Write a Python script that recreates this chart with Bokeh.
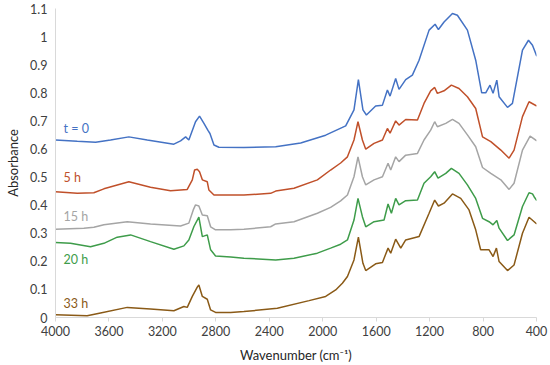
from bokeh.plotting import figure
from bokeh.models import Range1d, FixedTicker, ColumnDataSource
from bokeh.core.properties import value
from bokeh.embed import file_html
from bokeh.resources import INLINE

# ---- data ----
wn_t0 = [4000, 3837, 3700, 3588, 3451, 3313, 3114, 3064, 3026, 3002, 2952, 2922, 2889, 2859, 2844, 2814, 2777,
         2590, 2352, 2165, 1978, 1828, 1766, 1733, 1699, 1673, 1604, 1553, 1516, 1496, 1454, 1429, 1379, 1329,
         1279, 1204, 1159, 1134, 1092, 1029, 992, 917, 855, 810, 780, 748, 725, 697, 680, 617, 580, 505, 460, 430, 398]
abs_t0 = [0.632, 0.627, 0.624, 0.632, 0.643, 0.632, 0.617, 0.629, 0.643, 0.632, 0.697, 0.717, 0.691, 0.666, 0.655,
          0.614, 0.606, 0.605, 0.608, 0.621, 0.649, 0.682, 0.739, 0.847, 0.739, 0.721, 0.753, 0.756, 0.810, 0.788,
          0.851, 0.812, 0.847, 0.863, 0.916, 1.023, 1.044, 1.025, 1.052, 1.082, 1.076, 1.023, 0.916, 0.800, 0.800,
          0.827, 0.798, 0.845, 0.786, 0.748, 0.762, 0.952, 0.987, 0.969, 0.930]

wn_5h = [4000, 3837, 3713, 3638, 3451, 3289, 3139, 3014, 2976, 2959, 2939, 2922, 2901, 2864, 2852, 2814, 2689,
         2590, 2390, 2352, 2215, 2040, 1941, 1866, 1815, 1766, 1736, 1703, 1678, 1616, 1553, 1516, 1496, 1454,
         1429, 1379, 1291, 1242, 1192, 1162, 1142, 1092, 1037, 980, 917, 855, 804, 742, 667, 605, 568, 505, 456, 398]
abs_5h = [0.448, 0.442, 0.444, 0.458, 0.483, 0.464, 0.451, 0.456, 0.490, 0.525, 0.528, 0.519, 0.490, 0.483, 0.454,
          0.436, 0.436, 0.436, 0.442, 0.450, 0.460, 0.490, 0.525, 0.550, 0.572, 0.632, 0.697, 0.632, 0.599, 0.620,
          0.632, 0.673, 0.656, 0.700, 0.685, 0.705, 0.703, 0.762, 0.807, 0.819, 0.798, 0.807, 0.827, 0.815, 0.786,
          0.744, 0.643, 0.626, 0.596, 0.567, 0.596, 0.715, 0.768, 0.753]

wn_15h = [4000, 3788, 3713, 3638, 3463, 3289, 3064, 3002, 2969, 2952, 2927, 2901, 2864, 2839, 2802, 2689, 2590,
          2390, 2352, 2215, 2040, 1941, 1866, 1815, 1766, 1736, 1703, 1678, 1616, 1553, 1511, 1491, 1454, 1429,
          1379, 1291, 1242, 1192, 1162, 1142, 1079, 1029, 980, 917, 855, 804, 742, 667, 605, 568, 505, 448, 398]
abs_15h = [0.314, 0.318, 0.321, 0.330, 0.341, 0.333, 0.326, 0.336, 0.383, 0.401, 0.397, 0.365, 0.362, 0.323, 0.312,
           0.312, 0.314, 0.323, 0.333, 0.341, 0.371, 0.392, 0.415, 0.436, 0.501, 0.572, 0.501, 0.472, 0.490, 0.501,
           0.549, 0.525, 0.572, 0.555, 0.578, 0.584, 0.632, 0.667, 0.697, 0.679, 0.691, 0.705, 0.691, 0.650, 0.608,
           0.534, 0.513, 0.490, 0.456, 0.478, 0.596, 0.646, 0.629]

wn_20h = [4000, 3888, 3738, 3638, 3538, 3438, 3289, 3114, 3039, 3002, 2964, 2927, 2901, 2864, 2839, 2802, 2689,
          2590, 2352, 2215, 2040, 1941, 1866, 1815, 1766, 1736, 1703, 1678, 1616, 1541, 1511, 1486, 1454, 1429,
          1379, 1291, 1242, 1192, 1162, 1137, 1079, 1037, 980, 917, 855, 804, 755, 725, 697, 680, 617, 568, 505,
          456, 430, 418, 398]
abs_20h = [0.267, 0.264, 0.252, 0.264, 0.286, 0.294, 0.270, 0.243, 0.255, 0.276, 0.324, 0.357, 0.288, 0.294, 0.241,
           0.219, 0.215, 0.211, 0.205, 0.211, 0.229, 0.247, 0.261, 0.276, 0.347, 0.424, 0.359, 0.323, 0.341, 0.347,
           0.404, 0.371, 0.424, 0.401, 0.416, 0.418, 0.478, 0.501, 0.519, 0.496, 0.513, 0.531, 0.513, 0.472, 0.424,
           0.353, 0.341, 0.330, 0.345, 0.318, 0.274, 0.294, 0.395, 0.444, 0.440, 0.430, 0.416]

wn_33h = [4000, 3763, 3663, 3463, 3289, 3114, 3039, 3014, 2976, 2939, 2927, 2901, 2864, 2839, 2802, 2689, 2590,
          2340, 2102, 1978, 1903, 1853, 1815, 1766, 1733, 1699, 1678, 1604, 1553, 1511, 1491, 1454, 1416, 1379,
          1279, 1204, 1162, 1134, 1092, 1029, 967, 905, 855, 818, 755, 725, 700, 680, 617, 568, 505, 456, 398]
abs_33h = [0.010, 0.006, 0.016, 0.036, 0.030, 0.024, 0.039, 0.036, 0.075, 0.108, 0.116, 0.075, 0.065, 0.027, 0.018,
           0.018, 0.021, 0.033, 0.060, 0.075, 0.098, 0.122, 0.146, 0.205, 0.286, 0.193, 0.167, 0.191, 0.196, 0.247,
           0.229, 0.279, 0.247, 0.276, 0.288, 0.371, 0.418, 0.397, 0.407, 0.440, 0.424, 0.383, 0.312, 0.241, 0.241,
           0.217, 0.247, 0.199, 0.167, 0.187, 0.300, 0.357, 0.333]

series_names = ["t = 0", "5 h", "15 h", "20 h", "33 h"]
series_colors = ["#4472C4", "#C0502A", "#A5A5A5", "#3E9C4A", "#8A5A17"]
label_x = [3940, 3940, 3940, 3940, 3940]
label_y = [0.674, 0.497, 0.359, 0.208, 0.051]

x_ticks = [4000, 3600, 3200, 2800, 2400, 2000, 1600, 1200, 800, 400]
y_ticks = [0, 0.1, 0.2, 0.3, 0.4, 0.5, 0.6, 0.7, 0.8, 0.9, 1.0, 1.1]
y_tick_labels = ["0", "0.1", "0.2", "0.3", "0.4", "0.5", "0.6", "0.7", "0.8", "0.9", "1", "1.1"]

FONT = "Lato"

p = figure(width=548, height=365, output_backend="svg", toolbar_location=None,
           x_range=Range1d(4000, 400), y_range=Range1d(0, 1.1))
p.min_border_left = 55
p.min_border_right = 12
p.min_border_top = 8
p.min_border_bottom = 45
p.outline_line_color = None
p.xgrid.visible = False
p.ygrid.visible = False
p.background_fill_color = "white"
p.border_fill_color = "white"

xs = [wn_t0, wn_5h, wn_15h, wn_20h, wn_33h]
ys = [abs_t0, abs_5h, abs_15h, abs_20h, abs_33h]
for x, y, c in zip(xs, ys, series_colors):
    p.line(x, y, line_color=c, line_width=1.5)

src = ColumnDataSource(dict(x=label_x, y=label_y, t=series_names, c=series_colors))
p.text(x="x", y="y", text="t", text_color="c", source=src, text_font=value(FONT),
       text_font_size="12.5px", text_align="left", text_baseline="middle")

# x axis
xa = p.xaxis[0]
xa.ticker = FixedTicker(ticks=x_ticks)
xa.axis_label = "Wavenumber (cm\u207b\u00b9)"
xa.axis_line_color = "#D9D9D9"
xa.major_tick_line_color = "#D9D9D9"
xa.major_tick_out = 4
xa.major_tick_in = 0
xa.minor_tick_line_color = None
xa.major_label_standoff = 4
xa.axis_label_standoff = 8
xa.major_label_text_font = FONT
xa.major_label_text_font_size = "12.5px"
xa.major_label_text_color = "#404040"
xa.axis_label_text_font = FONT
xa.axis_label_text_font_size = "13px"
xa.axis_label_text_font_style = "normal"
xa.axis_label_text_color = "#262626"

# y axis
ya = p.yaxis[0]
ya.ticker = FixedTicker(ticks=y_ticks)
ya.major_label_overrides = {t: l for t, l in zip(y_ticks, y_tick_labels)}
ya.axis_label = "Absorbance"
ya.axis_line_color = "#D9D9D9"
ya.major_tick_line_color = None
ya.major_tick_out = 0
ya.major_tick_in = 0
ya.minor_tick_line_color = None
ya.major_label_standoff = 8
ya.axis_label_standoff = 6
ya.major_label_text_font = FONT
ya.major_label_text_font_size = "12.5px"
ya.major_label_text_color = "#404040"
ya.axis_label_text_font = FONT
ya.axis_label_text_font_size = "13px"
ya.axis_label_text_font_style = "normal"
ya.axis_label_text_color = "#262626"

open("out.html", "w").write(file_html(p, INLINE))
